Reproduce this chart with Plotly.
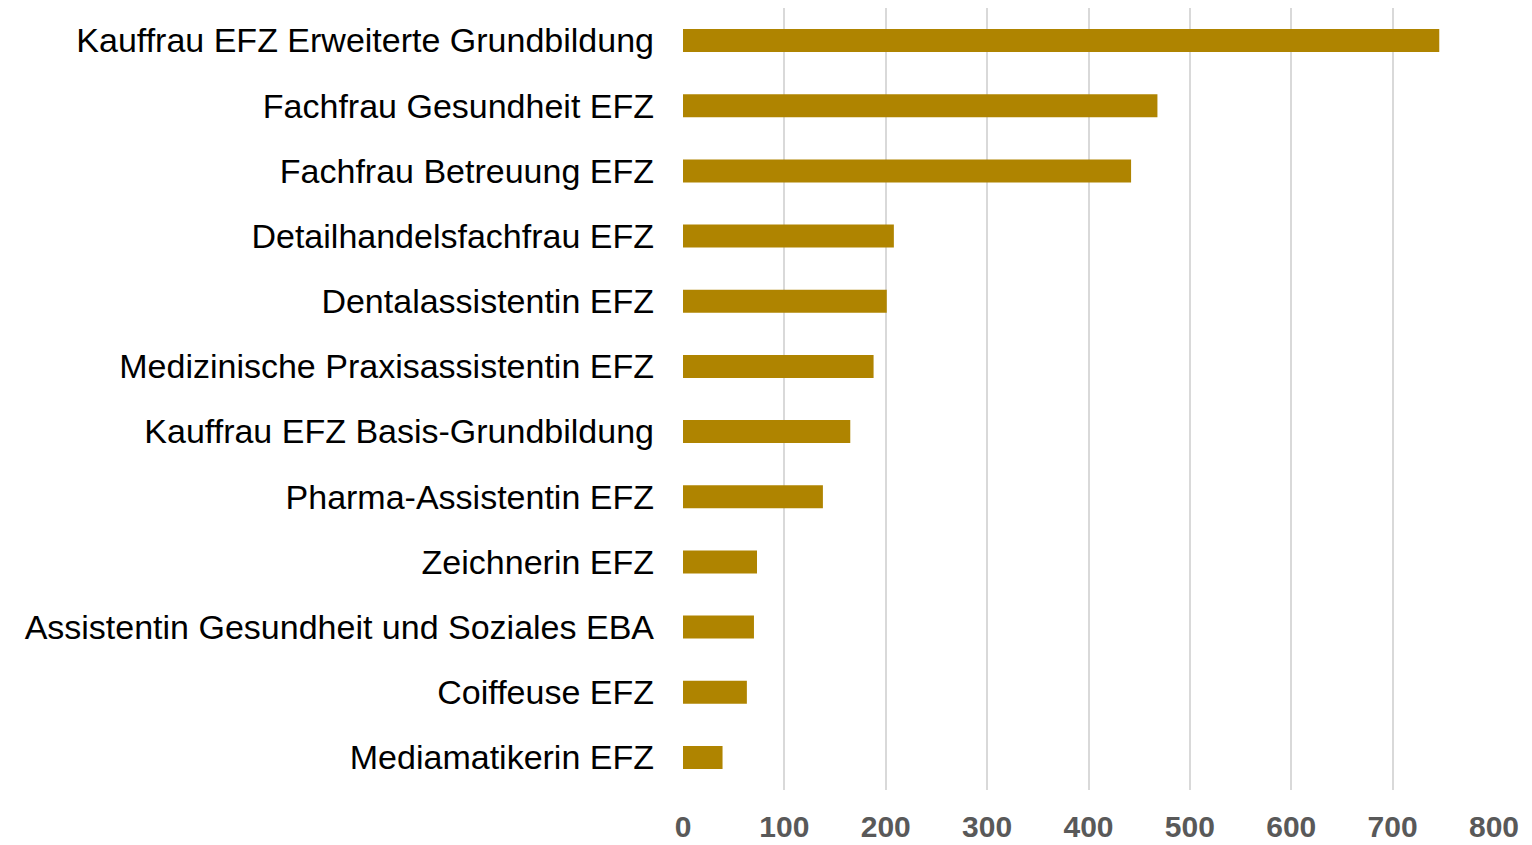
import plotly.graph_objects as go

categories = [
    "Kauffrau EFZ Erweiterte Grundbildung",
    "Fachfrau Gesundheit EFZ",
    "Fachfrau Betreuung EFZ",
    "Detailhandelsfachfrau EFZ",
    "Dentalassistentin EFZ",
    "Medizinische Praxisassistentin EFZ",
    "Kauffrau EFZ Basis-Grundbildung",
    "Pharma-Assistentin EFZ",
    "Zeichnerin EFZ",
    "Assistentin Gesundheit und Soziales EBA",
    "Coiffeuse EFZ",
    "Mediamatikerin EFZ",
]
values = [746, 468, 442, 208, 201, 188, 165, 138, 73, 70, 63, 39]
tick_vals = [0, 100, 200, 300, 400, 500, 600, 700, 800]

fig = go.Figure(
    go.Bar(
        x=values,
        y=categories,
        orientation="h",
        marker=dict(color="#AF8400", line=dict(width=0)),
        width=0.353,
    )
)

fig.update_layout(
    width=1532,
    height=845,
    margin=dict(l=683, r=38, t=8, b=55, autoexpand=False),
    plot_bgcolor="white",
    paper_bgcolor="white",
    showlegend=False,
    font=dict(family="Liberation Sans, Arial, sans-serif", color="black"),
)

fig.update_xaxes(
    range=[0, 800],
    tickvals=tick_vals,
    showgrid=True,
    gridcolor="#D9D9D9",
    gridwidth=2,
    zeroline=False,
    showline=False,
    automargin=False,
    tickfont=dict(
        family="Liberation Sans, Arial, sans-serif",
        size=30,
        color="#595959",
        weight="bold",
    ),
    ticklabelstandoff=16,
)

fig.update_yaxes(
    categoryorder="array",
    categoryarray=categories[::-1],
    autorange=True,
    showgrid=False,
    zeroline=False,
    showline=False,
    automargin=False,
    tickfont=dict(family="Liberation Sans, Arial, sans-serif", size=34, color="black"),
    ticklabelstandoff=28,
)

fig.write_html(
    "out.html",
    config={"displayModeBar": False},
    post_script="document.body.style.margin='0';document.body.style.overflow='hidden';",
)
